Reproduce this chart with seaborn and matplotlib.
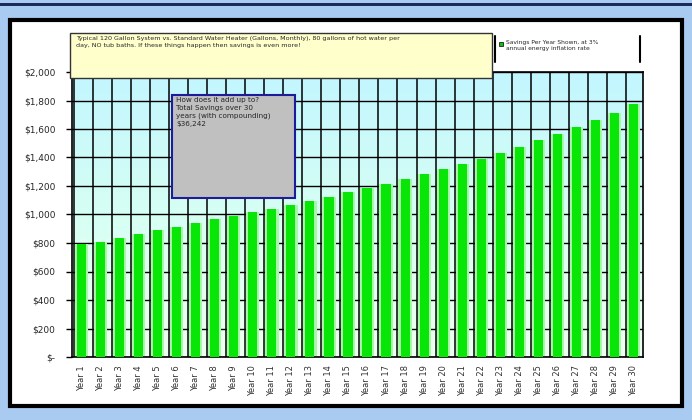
import matplotlib
matplotlib.use("Agg")
import matplotlib.pyplot as plt
import matplotlib.patches as mpatches
import numpy as np
import pandas as pd
import seaborn as sns

years = ["Year %d" % i for i in range(1, 31)]
savings = [790, 810, 835, 862, 888, 912, 940, 965, 992, 1015,
           1040, 1065, 1095, 1125, 1155, 1185, 1215, 1250, 1285, 1320,
           1354, 1389, 1432, 1474, 1520, 1565, 1614, 1663, 1712, 1775]
ytick_vals = [0, 200, 400, 600, 800, 1000, 1200, 1400, 1600, 1800, 2000]
ytick_labels = ["$-", "$200", "$400", "$600", "$800", "$1,000", "$1,200",
                "$1,400", "$1,600", "$1,800", "$2,000"]

note_text = ("Typical 120 Gallon System vs. Standard Water Heater (Gallons, Monthly), 80 gallons of hot water per\n"
             "day, NO tub baths. If these things happen then savings is even more!")
legend_text = "Savings Per Year Shown, at 3%\nannual energy inflation rate"
total_text = "How does it add up to?\nTotal Savings over 30\nyears (with compounding)\n$36,242"

df = pd.DataFrame({"year": years, "savings": savings})

sns.set_style("white")
plt.rcParams["font.family"] = ["DejaVu Sans"]

fig = plt.figure(figsize=(6.92, 4.20), dpi=100)
fig.patch.set_facecolor("#a9cbf2")

# outer frame pieces
fig.patches.append(mpatches.Rectangle((0, 1 - 6 / 420), 1, 3 / 420, transform=fig.transFigure,
                                      facecolor="#1a2a5a", edgecolor="none", zorder=-2))
fig.patches.append(mpatches.Rectangle((10 / 692, 1 - 406 / 420), 672 / 692, 386 / 420,
                                      transform=fig.transFigure, facecolor="white",
                                      edgecolor="black", linewidth=3, zorder=-1))

ax = fig.add_axes([72 / 692, 1 - 357 / 420, 571 / 692, 285 / 420])
ax.set_zorder(1)

# gradient background of the plot area
grad = np.linspace(0, 1, 256).reshape(-1, 1)
cmap = matplotlib.colors.LinearSegmentedColormap.from_list("bg", ["#eefff0", "#d6fff4", "#c2f6ff"])
ax.imshow(grad, aspect="auto", cmap=cmap, origin="lower",
          extent=[-0.5, 29.5, 0, 2000], zorder=0)

# soft halo behind bars, then the bright core
sns.barplot(data=df, x="year", y="savings", color="#a8f8a8", width=0.7,
            saturation=1, linewidth=0, ax=ax, zorder=2)
sns.barplot(data=df, x="year", y="savings", color="#08e608", width=0.48,
            saturation=1, linewidth=0, ax=ax, zorder=3)

for y in ytick_vals:
    ax.axhline(y, color="black", linewidth=1, zorder=1)
for i in range(len(years)):
    ax.axvline(i - 0.4, color="black", linewidth=1.1, zorder=4)

ax.set_xlim(-0.5, 29.5)
ax.set_ylim(0, 2000)
ax.set_yticks(ytick_vals)
ax.set_yticklabels(ytick_labels, fontsize=6.5)
ax.set_xticks(range(len(years)))
ax.set_xticklabels(years, rotation=90, fontsize=6, color="#333333")
ax.tick_params(axis="y", length=4, width=1, color="black", pad=8, left=True)
ax.tick_params(axis="x", length=0, pad=6)
ax.set_xlabel("")
ax.set_ylabel("")
for s in ax.spines.values():
    s.set_color("black")
    s.set_linewidth(1.2)

# note box at the top
fig.patches.append(mpatches.Rectangle((70 / 692, 1 - 78 / 420), 422 / 692, 45 / 420,
                                      transform=fig.transFigure, facecolor="#ffffcc",
                                      edgecolor="#333333", linewidth=1, zorder=5))
fig.text(76 / 692, 1 - 36 / 420, note_text, fontsize=4.6, va="top", ha="left",
         linespacing=1.5, zorder=6)

# legend box
fig.patches.append(mpatches.Rectangle((495 / 692, 1 - 62 / 420), 145 / 692, 26 / 420,
                                      transform=fig.transFigure, facecolor="white",
                                      edgecolor="none", zorder=5))
fig.lines.append(plt.Line2D([495 / 692, 495 / 692], [1 - 62 / 420, 1 - 36 / 420],
                            transform=fig.transFigure, color="black", linewidth=1.5, zorder=6))
fig.lines.append(plt.Line2D([640 / 692, 640 / 692], [1 - 62 / 420, 1 - 36 / 420],
                            transform=fig.transFigure, color="black", linewidth=1.5, zorder=6))
fig.patches.append(mpatches.Rectangle((499 / 692, 1 - 46 / 420), 4 / 692, 4 / 420,
                                      transform=fig.transFigure, facecolor="#11c011",
                                      edgecolor="black", linewidth=0.5, zorder=6))
fig.text(506 / 692, 1 - 40 / 420, legend_text, fontsize=4.3, va="top", ha="left",
         linespacing=1.3, zorder=6)

# total savings box
fig.patches.append(mpatches.Rectangle((172 / 692, 1 - 198 / 420), 123 / 692, 103 / 420,
                                      transform=fig.transFigure, facecolor="#c0c0c0",
                                      edgecolor="#1c1c9c", linewidth=1.5, zorder=5))
fig.text(176 / 692, 1 - 97 / 420, total_text, fontsize=5.2, va="top", ha="left",
         linespacing=1.35, zorder=6)

fig.savefig("out.png", dpi=100, facecolor=fig.get_facecolor())
